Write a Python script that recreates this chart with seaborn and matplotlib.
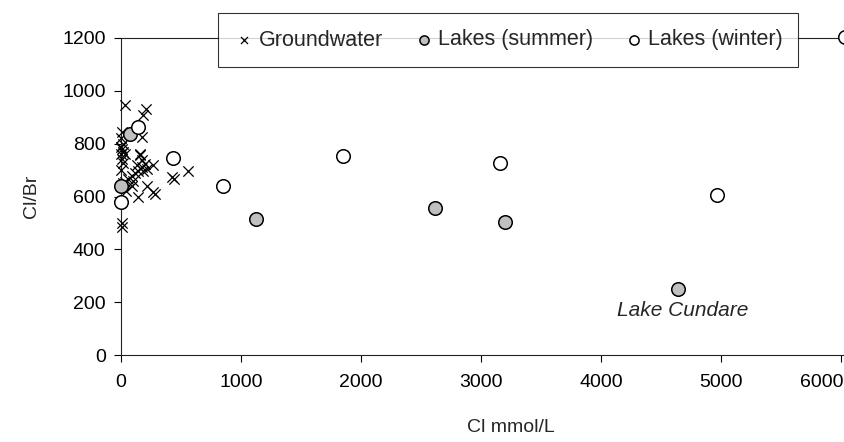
import matplotlib
matplotlib.use("Agg")
import matplotlib.pyplot as plt
import matplotlib.transforms as mtransforms
import seaborn as sns
import pandas as pd

# Groundwater (Cl mmol/L, Cl/Br)
gw_cl = [33, 210, 186, 172, 5, 0, 0, 19, 10, 33, 5, 19, 0, 158, 172, 269, 200, 172,
         144, 116, 89, 61, 33, 213, 186, 560, 421, 440, 213, 269, 283, 144, 5, 5,
         20, 45, 100, 130, 90, 0, 15, 160]
gw_ratio = [945, 930, 910, 825, 845, 820, 787, 770, 780, 762, 743, 725, 700, 756, 740, 718, 722, 711,
            698, 688, 678, 667, 655, 705, 698, 698, 673, 668, 641, 616, 610, 600, 500, 485,
            650, 620, 660, 720, 640, 760, 800, 760]

# Lakes (summer)
ls_cl = [75, 0, 1128, 2620, 3200, 4645]
ls_ratio = [838, 641, 514, 556, 504, 251]

# Lakes (winter)
lw_cl = [144, 0, 430, 850, 1850, 3155, 4965, 6030]
lw_ratio = [864, 578, 746, 641, 755, 728, 607, 1205]

x_ticks = [0, 1000, 2000, 3000, 4000, 5000, 6000]
y_ticks = [0, 200, 400, 600, 800, 1000, 1200]

gw = pd.DataFrame({"cl": gw_cl, "ratio": gw_ratio})
ls = pd.DataFrame({"cl": ls_cl, "ratio": ls_ratio})
lw = pd.DataFrame({"cl": lw_cl, "ratio": lw_ratio})

sns.set_style("ticks")
plt.rcParams["font.family"] = ["Liberation Sans", "DejaVu Sans"]

fig = plt.figure(figsize=(8.44, 4.42), dpi=100)
px_per_unit_x = 720.0 / 6000
xmax = 6500
left = 121 / 844
width = xmax * px_per_unit_x / 844
bottom = (442 - 355) / 442
height = (355 - 38) / 442
ax = fig.add_axes([left, bottom, width, height])

sns.scatterplot(data=gw, x="cl", y="ratio", ax=ax, marker="x", color="black",
                s=55, linewidth=0.9, label="Groundwater", zorder=3)
sns.scatterplot(data=ls, x="cl", y="ratio", ax=ax, marker="o", color="#C0C0C0",
                edgecolor="black", s=95, linewidth=1.1, label="Lakes (summer)", zorder=4)
sns.scatterplot(data=lw, x="cl", y="ratio", ax=ax, marker="o", color="white",
                edgecolor="black", s=95, linewidth=1.1, label="Lakes (winter)", zorder=4)
for coll in ax.collections:
    coll.set_clip_on(False)

ax.set_xlim(0, xmax)
ax.set_ylim(0, 1200)
ax.set_xticks(x_ticks)
ax.set_yticks(y_ticks)
ax.tick_params(direction="out", length=5, width=0.8, labelsize=14, colors="black", pad=6)
ax.tick_params(axis="x", pad=9)
for s in ["left", "bottom", "top"]:
    ax.spines[s].set_visible(True)
    ax.spines[s].set_linewidth(0.8)
    ax.spines[s].set_color("#222222")
ax.spines["right"].set_visible(False)

# Shift the last x tick label left so it fits (as in the reference)
fig.canvas.draw()
last_lbl = ax.get_xticklabels()[-1]
last_lbl.set_transform(last_lbl.get_transform() +
                       mtransforms.ScaledTranslation(-19 / 100, 0, fig.dpi_scale_trans))

ax.set_xlabel("Cl mmol/L", fontsize=14, labelpad=20)
ax.set_ylabel("Cl/Br", fontsize=14, labelpad=16)

ax.text(4680, 167, "Lake Cundare", fontsize=15, style="italic", ha="center", va="center")

leg = ax.legend(loc="center", bbox_to_anchor=(508 / 844, 1 - 40 / 442),
                bbox_transform=fig.transFigure, ncol=3, frameon=True, fancybox=False,
                fontsize=15.5, markerscale=0.68, handletextpad=0.15, columnspacing=1.4,
                borderpad=0.75, handlelength=1.0)
leg.get_frame().set_edgecolor("black")
leg.get_frame().set_linewidth(0.8)
leg.set_zorder(10)

fig.savefig("out.png", dpi=100)
